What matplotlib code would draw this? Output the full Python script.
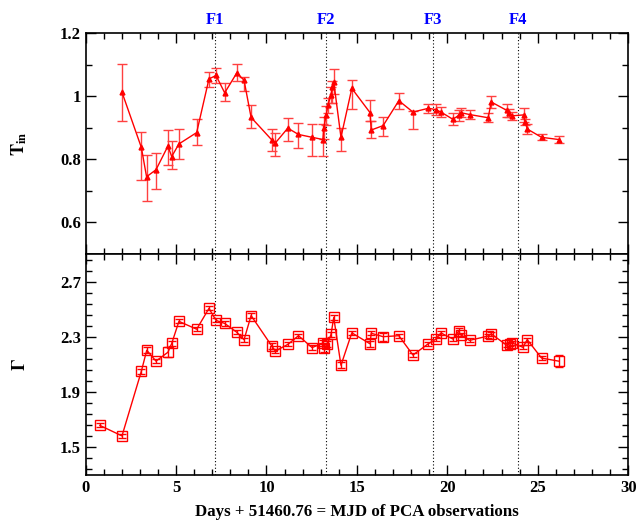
import matplotlib
matplotlib.use("Agg")
import matplotlib.pyplot as plt
import numpy as np
from matplotlib.ticker import MultipleLocator, FixedLocator, FormatStrFormatter

# Inner disk temperature (top panel)
t_days = [2.01, 3.08, 3.37, 3.89, 4.55, 4.76, 5.16, 6.14, 6.82, 7.21,
          7.69, 8.36, 8.76, 9.15, 10.29, 10.49, 11.18, 11.77, 12.52, 13.12,
          13.17, 13.30, 13.40, 13.56, 13.65, 13.72, 14.12, 14.72, 15.73, 15.79,
          16.45, 17.32, 18.10, 18.96, 19.35, 19.65, 20.31, 20.64, 20.75, 21.25,
          22.26, 22.43, 23.30, 23.43, 23.56, 24.22, 24.29, 24.43, 25.21, 26.15]
t_in = [1.013, 0.838, 0.745, 0.767, 0.842, 0.809, 0.849, 0.885, 1.055, 1.066,
        1.011, 1.074, 1.051, 0.933, 0.862, 0.852, 0.899, 0.879, 0.870, 0.863,
        0.900, 0.940, 0.971, 1.004, 1.028, 1.046, 0.870, 1.025, 0.948, 0.893,
        0.907, 0.986, 0.950, 0.962, 0.958, 0.950, 0.927, 0.940, 0.948, 0.942,
        0.932, 0.982, 0.955, 0.948, 0.938, 0.941, 0.919, 0.896, 0.870, 0.863]
t_err_lo = [0.091, 0.104, 0.077, 0.062, 0.060, 0.040, 0.048, 0.040, 0.024, 0.024,
            0.025, 0.026, 0.035, 0.033, 0.035, 0.042, 0.041, 0.044, 0.058, 0.052,
            0.035, 0.030, 0.025, 0.025, 0.050, 0.040, 0.043, 0.065, 0.026, 0.025,
            0.034, 0.026, 0.054, 0.015, 0.016, 0.015, 0.019, 0.018, 0.014, 0.015,
            0.015, 0.020, 0.022, 0.013, 0.013, 0.022, 0.010, 0.016, 0.009, 0.011]
t_err_hi = [0.090, 0.048, 0.068, 0.053, 0.052, 0.048, 0.048, 0.042, 0.021, 0.024,
            0.032, 0.029, 0.011, 0.038, 0.035, 0.031, 0.031, 0.035, 0.042, 0.048,
            0.035, 0.030, 0.025, 0.025, 0.020, 0.040, 0.031, 0.027, 0.040, 0.028,
            0.027, 0.026, 0.004, 0.015, 0.016, 0.015, 0.019, 0.018, 0.014, 0.015,
            0.015, 0.020, 0.022, 0.013, 0.013, 0.022, 0.010, 0.016, 0.009, 0.011]

# Photon index (bottom panel)
g_days = [0.79, 2.01, 3.08, 3.38, 3.89, 4.55, 4.76, 5.16, 6.14, 6.82,
          7.21, 7.69, 8.36, 8.76, 9.15, 10.29, 10.49, 11.18, 11.77, 12.52,
          13.12, 13.19, 13.37, 13.57, 13.72, 14.12, 14.72, 15.73, 15.79, 16.45,
          17.32, 18.10, 18.94, 19.35, 19.65, 20.31, 20.62, 20.73, 21.23, 22.26,
          22.43, 23.30, 23.45, 23.60, 24.18, 24.42, 25.21, 26.15]
gamma = [1.658, 1.582, 2.050, 2.203, 2.124, 2.188, 2.252, 2.412, 2.355, 2.506,
         2.419, 2.397, 2.333, 2.279, 2.454, 2.234, 2.197, 2.245, 2.308, 2.222,
         2.254, 2.220, 2.249, 2.317, 2.440, 2.094, 2.329, 2.249, 2.326, 2.301,
         2.308, 2.168, 2.249, 2.282, 2.328, 2.284, 2.341, 2.316, 2.274, 2.306,
         2.321, 2.238, 2.249, 2.255, 2.224, 2.280, 2.146, 2.124]
g_err = [0.015, 0.012, 0.020, 0.020, 0.015, 0.035, 0.020, 0.015, 0.015, 0.015,
         0.015, 0.015, 0.015, 0.015, 0.015, 0.020, 0.015, 0.015, 0.015, 0.020,
         0.020, 0.030, 0.020, 0.015, 0.015, 0.020, 0.015, 0.020, 0.015, 0.030,
         0.015, 0.015, 0.015, 0.015, 0.015, 0.015, 0.020, 0.015, 0.015, 0.015,
         0.015, 0.015, 0.015, 0.015, 0.015, 0.015, 0.015, 0.045]

# Flare markers
flare_days = [7.14, 13.29, 19.2, 23.93]
flare_names = ["F1", "F2", "F3", "F4"]

plt.rcParams['font.family'] = ['Liberation Serif', 'DejaVu Serif']
plt.rcParams['font.weight'] = 'bold'
plt.rcParams['mathtext.fontset'] = 'stix'

fig, (ax1, ax2) = plt.subplots(2, 1, sharex=True, figsize=(6.39, 5.27), dpi=100)
fig.subplots_adjust(left=0.134, right=0.983, top=0.937, bottom=0.099, hspace=0)

# Top panel: T_in with error bars
ax1.errorbar(t_days, t_in, yerr=[t_err_lo, t_err_hi], color='red', lw=1,
             marker='^', ms=3.5, capsize=3.5, elinewidth=1, ecolor='#ff4040')
ax1.set_ylim(0.5, 1.2)
ax1.yaxis.set_major_locator(MultipleLocator(0.2))
ax1.yaxis.set_minor_locator(MultipleLocator(0.1))
ax1.yaxis.set_major_formatter(FormatStrFormatter('%g'))
ax1.set_ylabel(r'$\mathbf{T_{in}}$', fontsize=13, labelpad=22)

# Bottom panel: photon index
ax2.errorbar(g_days, gamma, yerr=g_err, color='red', lw=1,
             marker='s', ms=6.5, mfc='none', mew=1, capsize=3, elinewidth=1)
ax2.set_ylim(1.3, 2.9)
ax2.set_yticks([1.5, 1.9, 2.3, 2.7])
# minor ticks every 0.08, lined up with the labelled ticks
ax2.yaxis.set_minor_locator(FixedLocator(1.5 + 0.08 * np.arange(-2, 18)))
ax2.set_ylabel(r'$\Gamma$', fontsize=13, labelpad=22)

ax2.set_xlim(0, 30)
ax2.xaxis.set_major_locator(MultipleLocator(5))
ax2.xaxis.set_minor_locator(MultipleLocator(1))
ax2.set_xlabel("Days + 51460.76 = MJD of PCA observations", fontsize=12.2,
               fontweight='bold', labelpad=6)

for ax in (ax1, ax2):
    for d in flare_days:
        ax.axvline(d, color='black', ls=(0, (1, 2)), lw=0.8, zorder=0)
    ax.tick_params(which='both', direction='in', top=True, right=True,
                   labelsize=12, width=1)
    ax.tick_params(which='major', length=7)
    ax.tick_params(which='minor', length=4)
    for lbl in ax.get_xticklabels() + ax.get_yticklabels():
        lbl.set_fontweight('bold')
    for sp in ax.spines.values():
        sp.set_linewidth(1.2)

# Flare labels above the top panel
for d, name in zip(flare_days, flare_names):
    ax1.text(d, 1.215, name, color='blue', fontsize=12, fontweight='bold',
             ha='center', va='bottom')

fig.savefig("out.png", dpi=100)
